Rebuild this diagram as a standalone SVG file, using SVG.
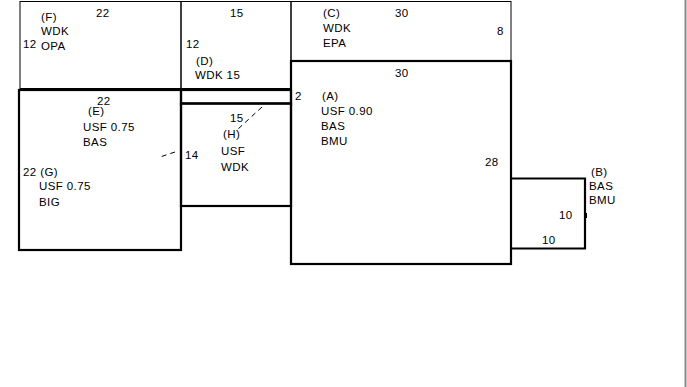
<svg xmlns="http://www.w3.org/2000/svg" width="687" height="387" viewBox="0 0 687 387">
<style>
  text { font-family: "Liberation Sans", Arial, sans-serif; font-size: 11.5px; fill: #000; letter-spacing: 0.4px; }
  .thin { fill: none; stroke: #000; stroke-width: 1; }
  .thick { fill: none; stroke: #000; stroke-width: 2.2; }
  .dash { fill: none; stroke: #000; stroke-width: 1; stroke-dasharray: 5 4; }
</style>
<rect x="0" y="0" width="687" height="387" fill="#fff"/>
<line x1="685.5" y1="0" x2="685.5" y2="387" stroke="#8a8a8a" stroke-width="2"/>

<g id="node-F">
  <rect class="thin" x="20" y="1.5" width="161" height="87"/>
  <text x="41" y="21">(F)</text>
  <text x="96" y="17">22</text>
  <text x="41" y="35">WDK</text>
  <text x="23" y="48">12</text>
  <text x="41" y="50">OPA</text>
</g>

<g id="node-D">
  <rect class="thin" x="181" y="1.5" width="110" height="87"/>
  <text x="230" y="17">15</text>
  <text x="186" y="48">12</text>
  <text x="196" y="65">(D)</text>
  <text x="195" y="79">WDK 15</text>
</g>

<g id="node-C">
  <rect class="thin" x="291" y="1.5" width="220" height="59"/>
  <text x="323" y="17">(C)</text>
  <text x="395" y="17">30</text>
  <text x="323" y="32">WDK</text>
  <text x="497" y="35">8</text>
  <text x="323" y="47">EPA</text>
</g>

<g id="node-strip">
  <rect class="thick" x="181" y="90" width="110" height="13.5"/>
</g>

<g id="node-E">
  <rect class="thick" x="19" y="90" width="162" height="160"/>
  <text x="97" y="105">22</text>
  <text x="88" y="115">(E)</text>
  <text x="83" y="131">USF 0.75</text>
  <text x="83" y="146">BAS</text>
</g>

<g id="node-G">
  <text x="23" y="176">22 (G)</text>
  <text x="39" y="190">USF 0.75</text>
  <text x="39" y="206">BIG</text>
</g>

<g id="node-H">
  <rect class="thick" x="181" y="103.5" width="110" height="102.5"/>
  <text x="230" y="122">15</text>
  <text x="223" y="138">(H)</text>
  <text x="221" y="155">USF</text>
  <text x="221" y="171">WDK</text>
  <text x="185" y="159">14</text>
</g>

<g id="node-A">
  <rect class="thick" x="291" y="61" width="220" height="203"/>
  <text x="395" y="77">30</text>
  <text x="295" y="100">2</text>
  <text x="322" y="100">(A)</text>
  <text x="321" y="115">USF 0.90</text>
  <text x="321" y="130">BAS</text>
  <text x="321" y="145">BMU</text>
  <text x="485" y="166">28</text>
</g>

<g id="node-B">
  <polyline class="thick" points="511,178.5 585,178.5 585,248.5 511,248.5"/>
  <rect x="584.5" y="213" width="2.5" height="5" fill="#000"/>
  <text x="591" y="176">(B)</text>
  <text x="589" y="190">BAS</text>
  <text x="589" y="204">BMU</text>
  <text x="559" y="219">10</text>
  <text x="542" y="244">10</text>
</g>

<g id="connectors">
  <line class="dash" x1="262" y1="107" x2="237" y2="130"/>
  <line class="dash" x1="175" y1="152" x2="160" y2="157"/>
</g>
</svg>
